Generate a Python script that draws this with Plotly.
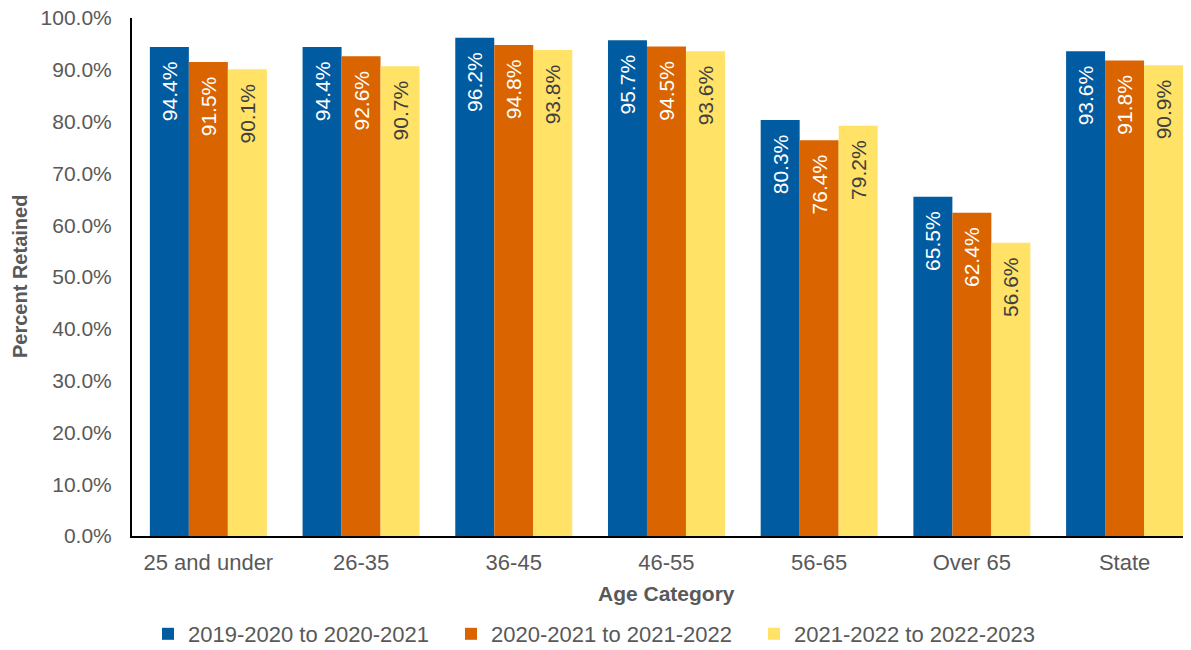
import plotly.graph_objects as go

categories = ["25 and under", "26-35", "36-45", "46-55", "56-65", "Over 65", "State"]
series_names = ["2019-2020 to 2020-2021", "2020-2021 to 2021-2022", "2021-2022 to 2022-2023"]
vals_2019 = [94.4, 94.4, 96.2, 95.7, 80.3, 65.5, 93.6]
vals_2020 = [91.5, 92.6, 94.8, 94.5, 76.4, 62.4, 91.8]
vals_2021 = [90.1, 90.7, 93.8, 93.6, 79.2, 56.6, 90.9]
y_ticks = [0, 10, 20, 30, 40, 50, 60, 70, 80, 90, 100]

colors = ["#005BA1", "#D96400", "#FFE266"]
label_colors = ["white", "white", "#404040"]
font_family = "Liberation Sans, Arial, sans-serif"
grey = "#595959"

# page body has an 8px margin, so margins are shifted to compensate
L, R, T, B = 124, 8, 10, 122
plot_w = 1191 - L - R
plot_h = 650 - T - B

fig = go.Figure()
for name, vals, c, lc in zip(series_names, [vals_2019, vals_2020, vals_2021], colors, label_colors):
    fig.add_trace(go.Bar(
        name=name,
        x=categories,
        y=vals,
        marker=dict(color=c, line=dict(width=0)),
        # trailing nbsp pushes the rotated label a bit down from the bar top
        text=[f"{v:.1f}%\u00a0\u00a0" for v in vals],
        textposition="inside",
        insidetextanchor="end",
        textangle=-90,
        textfont=dict(color=lc, size=21, family=font_family),
        constraintext="none",
    ))

fig.update_layout(
    width=1191, height=650,
    barmode="group",
    bargap=0.234,
    bargroupgap=0,
    plot_bgcolor="white",
    paper_bgcolor="white",
    font=dict(family=font_family, color=grey, size=21),
    margin=dict(l=L, r=R, t=T, b=B),
    uniformtext=dict(minsize=21, mode="show"),
    legend=dict(
        orientation="h",
        xref="container", x=140 / 1191, xanchor="left",
        yref="container", y=3 / 650, yanchor="bottom",
        font=dict(size=22, color=grey),
        itemwidth=30,
        traceorder="normal",
        entrywidth=258,
    ),
    annotations=[
        dict(text="<b>Age Category</b>", xref="paper", yref="paper",
             x=(658 - L) / plot_w, y=-57 / plot_h, xanchor="center", yanchor="middle",
             showarrow=False, font=dict(size=21, color=grey)),
        dict(text="<b>Percent Retained</b>", xref="paper", yref="paper",
             x=-(L - 12) / plot_w, y=0.5, xanchor="center", yanchor="middle",
             textangle=-90, showarrow=False, font=dict(size=20, color=grey)),
    ],
)
fig.update_xaxes(
    range=[-0.5, 6.435],
    showline=True, linecolor="black", linewidth=2,
    ticks="",
    ticklabelstandoff=6,
    automargin=False,
    tickfont=dict(size=22, color=grey),
)
fig.update_yaxes(
    range=[0, 100],
    tickvals=y_ticks,
    ticktext=[f"{t:.1f}%" for t in y_ticks],
    showline=True, linecolor="black", linewidth=2,
    showgrid=False, zeroline=False,
    ticks="",
    ticklabelstandoff=14,
    ticklabeloverflow="allow",
    automargin=False,
    tickfont=dict(size=21, color=grey),
)

fig.write_html("out.html")
